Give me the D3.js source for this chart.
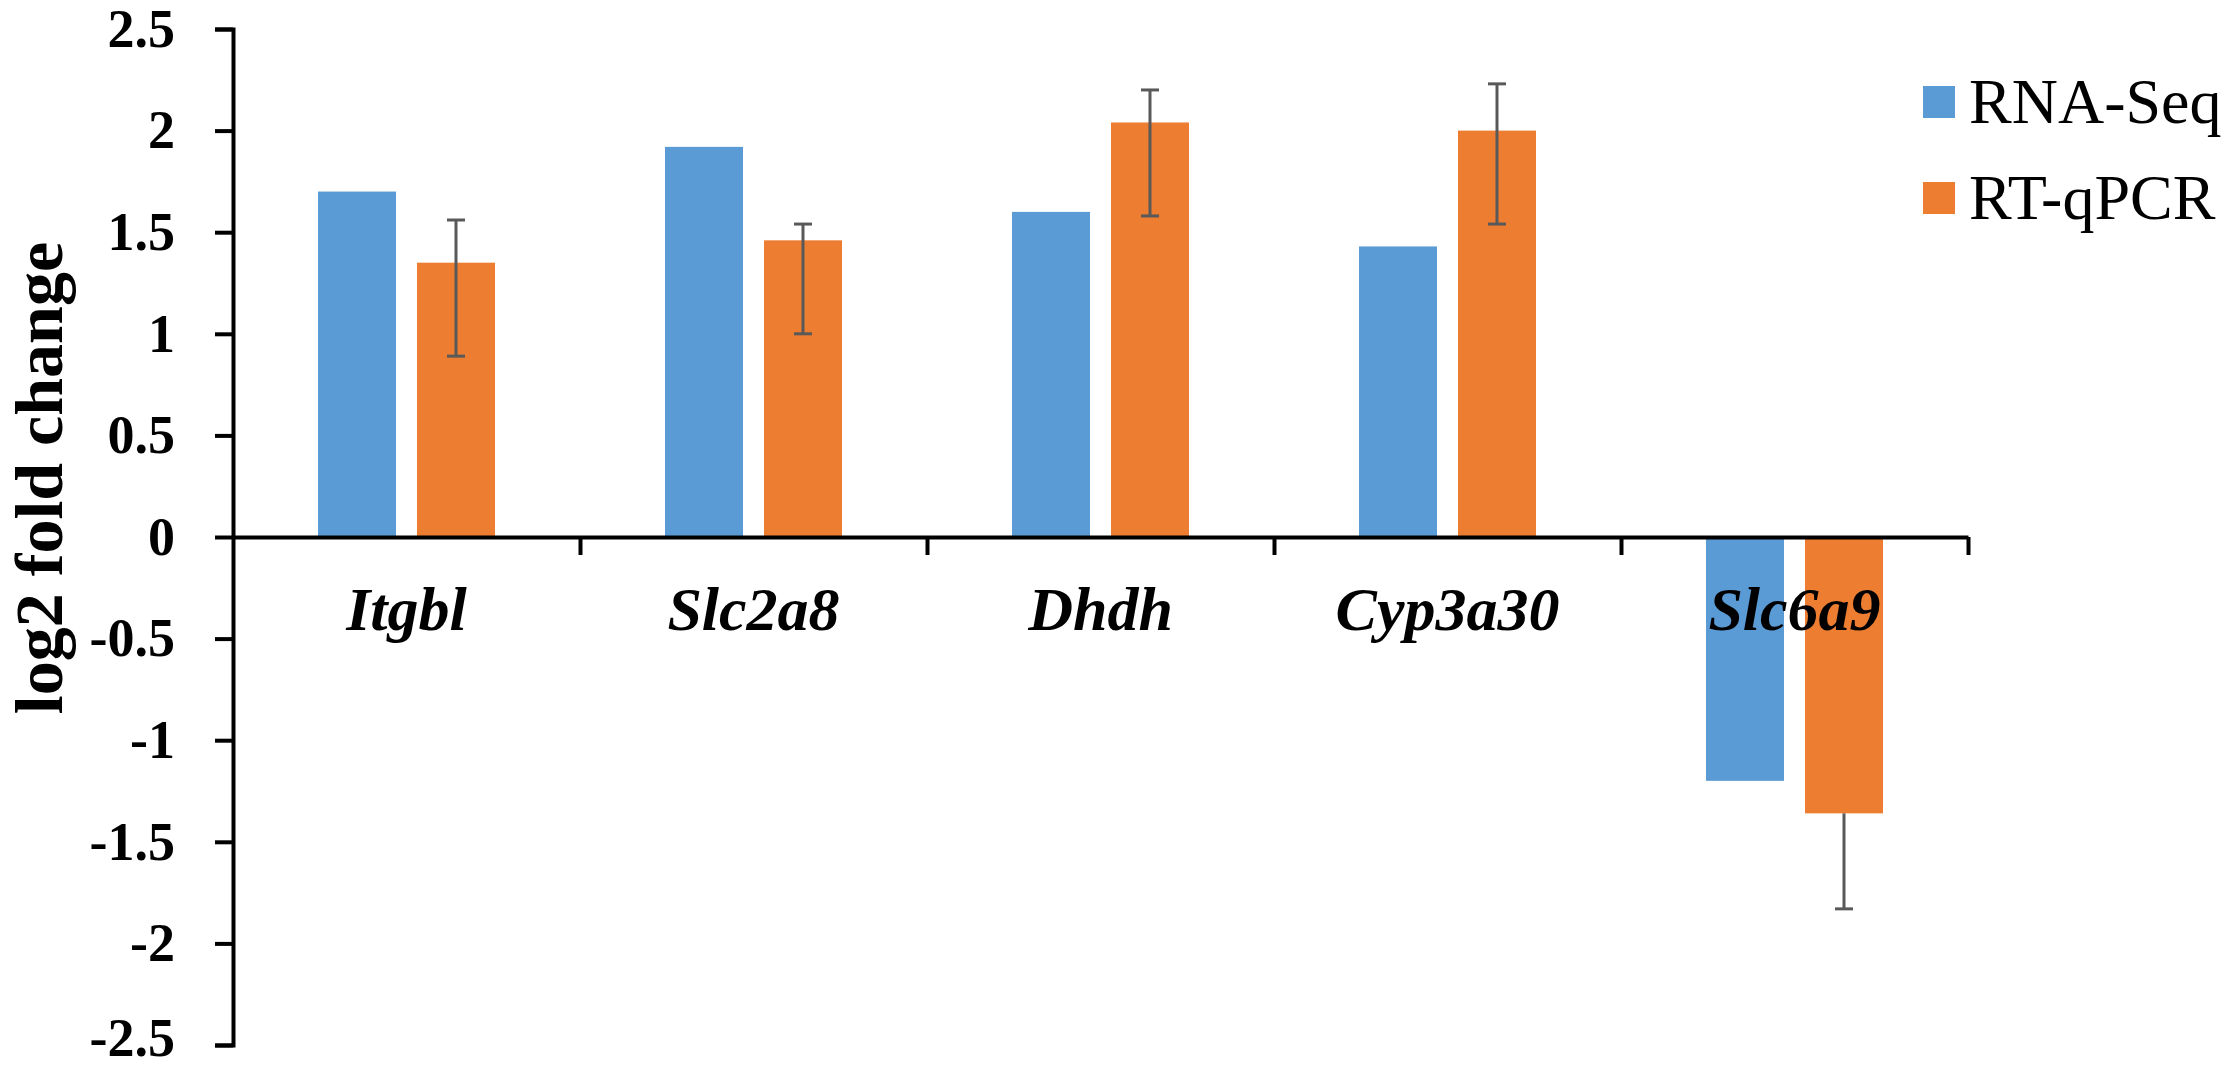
<!DOCTYPE html>
<html>
<head>
<meta charset="utf-8">
<script src="https://cdn.jsdelivr.net/npm/d3@7/dist/d3.min.js"></script>
<style>
  body { margin: 0; background: #fff; }
  svg { display: block; font-family: "Liberation Serif", serif; }
</style>
</head>
<body>
<svg width="2228" height="1071"></svg>
<script>
// genes on the x axis
const genes = ["Itgbl", "Slc2a8", "Dhdh", "Cyp3a30", "Slc6a9"];
const seriesNames = ["RNA-Seq", "RT-qPCR"];

// log2 fold change values
const rnaSeq = [1.70, 1.92, 1.60, 1.43, -1.20];
const rtqPCR = [1.35, 1.46, 2.04, 2.00, -1.36];

// RT-qPCR error bars (plus / minus)
const errPlus = [0.21, 0.08, 0.16, 0.23, 0];
const errMinus = [0.46, 0.46, 0.46, 0.46, 0.47];

// y tick labels
const yTicks = [2.5, 2, 1.5, 1, 0.5, 0, -0.5, -1, -1.5, -2, -2.5];

// define colors
const colors = ["#5B9BD5", "#ED7D31"];

// define chart dimensions
const plot = { left: 233, right: 1968, top: 29, bottom: 1045 };
const serif = "'Liberation Serif', serif";

const svg = d3.select("svg");

// scales
const x0 = d3.scaleBand()
  .domain(genes)
  .range([plot.left, plot.right])
  .padding(0);
const x1 = d3.scaleBand()
  .domain(seriesNames)
  .range([85, 262])
  .paddingInner(0.212);
const y = d3.scaleLinear()
  .domain([-2.5, 2.5])
  .range([plot.bottom, plot.top]);
const xb = d3.scaleLinear()
  .domain([0, genes.length])
  .range([plot.left, plot.right]);

// bars
const rows = genes.map((g, i) => ({
  gene: g,
  values: [rnaSeq[i], rtqPCR[i]],
  plus: errPlus[i],
  minus: errMinus[i]
}));

const groups = svg.selectAll("g.group")
  .data(rows)
  .enter()
  .append("g")
  .attr("class", "group")
  .attr("transform", d => "translate(" + x0(d.gene) + ",0)");

groups.selectAll("rect")
  .data(d => d.values.map((v, j) => ({ name: seriesNames[j], v: v, j: j })))
  .enter()
  .append("rect")
  .attr("x", d => x1(d.name))
  .attr("width", x1.bandwidth())
  .attr("y", d => y(Math.max(0, d.v)))
  .attr("height", d => Math.abs(y(d.v) - y(0)))
  .attr("fill", d => colors[d.j]);

// error bars on RT-qPCR
const cx = x1("RT-qPCR") + x1.bandwidth() / 2;
const err = groups.append("g")
  .attr("stroke", "#595959")
  .attr("stroke-width", 3);
err.append("line")
  .attr("x1", cx).attr("x2", cx)
  .attr("y1", d => y(d.values[1] + d.plus))
  .attr("y2", d => y(d.values[1] - d.minus));
err.filter(d => d.plus > 0).append("line")
  .attr("x1", cx - 9).attr("x2", cx + 9)
  .attr("y1", d => y(d.values[1] + d.plus))
  .attr("y2", d => y(d.values[1] + d.plus));
err.append("line")
  .attr("x1", cx - 9).attr("x2", cx + 9)
  .attr("y1", d => y(d.values[1] - d.minus))
  .attr("y2", d => y(d.values[1] - d.minus));

// y axis
const yAxis = d3.axisLeft(y)
  .tickValues(yTicks)
  .tickSize(18)
  .tickSizeOuter(18)
  .tickPadding(40)
  .tickFormat(d => String(d));
const gy = svg.append("g")
  .attr("transform", "translate(" + plot.left + ",0)")
  .call(yAxis);
gy.attr("font-family", serif);
gy.selectAll("path, line")
  .attr("stroke", "#000")
  .attr("stroke-width", 4);
gy.selectAll("text")
  .attr("font-weight", "bold")
  .attr("font-size", 54)
  .attr("fill", "#000")
  .attr("dy", d => d === -2.5 ? "0.2em" : "0.32em");

// x axis (category boundary ticks)
const xAxis = d3.axisBottom(xb)
  .tickValues(d3.range(1, genes.length + 1))
  .tickSize(18)
  .tickSizeOuter(0)
  .tickFormat("");
const gx = svg.append("g")
  .attr("transform", "translate(0," + y(0) + ")")
  .call(xAxis);
gx.selectAll("path, line")
  .attr("stroke", "#000")
  .attr("stroke-width", 4);

// category labels
svg.append("g")
  .selectAll("text")
  .data(genes)
  .enter()
  .append("text")
  .attr("x", d => x0(d) + x0.bandwidth() / 2)
  .attr("y", 630)
  .attr("text-anchor", "middle")
  .attr("font-family", serif)
  .attr("font-weight", "bold")
  .attr("font-style", "italic")
  .attr("font-size", 62)
  .text(d => d);

// y axis title
svg.append("text")
  .attr("transform", "translate(62,478) rotate(-90)")
  .attr("text-anchor", "middle")
  .attr("font-family", serif)
  .attr("font-weight", "bold")
  .attr("font-size", 68)
  .text("log2 fold change");

// legend
const legend = svg.append("g")
  .selectAll("g")
  .data(seriesNames)
  .enter()
  .append("g")
  .attr("transform", (d, i) => "translate(1923," + (86 + i * 96) + ")");
legend.append("rect")
  .attr("width", 32)
  .attr("height", 32)
  .attr("fill", (d, i) => colors[i]);
legend.append("text")
  .attr("x", 46)
  .attr("y", 37)
  .attr("font-family", serif)
  .attr("font-size", 64)
  .text(d => d);
</script>
</body>
</html>
